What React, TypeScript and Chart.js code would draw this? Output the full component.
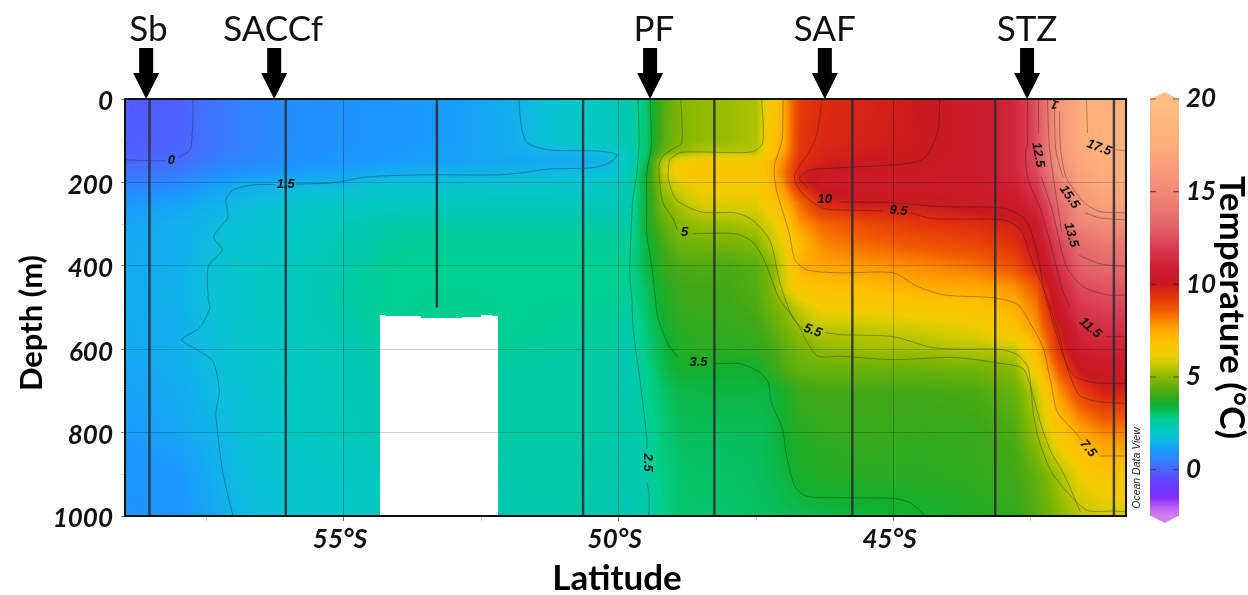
import React, { useEffect, useRef } from "react";
import { Chart, registerables } from "chart.js";

Chart.register(...registerables);

const LAT_MIN = 40.77;
const LAT_MAX = 58.985;
const latTicks = [57.5, 55, 52.5, 50, 47.5, 45, 42.5];
const latLabels: Record<string, string> = { "55": "55°S", "50": "50°S", "45": "45°S" };

const gridLats = [59, 58, 57, 56, 55, 54, 53, 52, 51, 50.2, 49.8, 49.5, 49.2, 48.9, 48.5, 48, 47.5, 47.2, 47, 46.7, 46.3, 45.5, 44.5, 43.5, 42.8, 42.4, 42, 41.6, 41.2, 40.7];
const gridDepths = [0, 100, 125, 150, 175, 200, 250, 300, 350, 400, 450, 500, 550, 600, 650, 700, 800, 900, 1000];
const temperature: number[][] = [
  [-0.2, -0.1, 0.5, 0.8, 0.9, 1.0, 1.1, 1.4, 1.9, 2.2, 2.4, 3.0, 4.2, 4.9, 5.1, 5.2, 5.4, 6.5, 7.5, 9.2, 9.5, 9.7, 10.0, 10.6, 11.2, 12.5, 15.8, 17.4, 17.8, 17.9],
  [-0.2, -0.05, 0.5, 0.8, 0.9, 1.0, 1.1, 1.35, 1.95, 2.2, 2.4, 3.0, 4.3, 4.9, 5.1, 5.2, 5.4, 6.8, 7.5, 9.3, 9.6, 9.8, 9.95, 10.6, 11.2, 12.4, 15.7, 17.4, 17.8, 17.9],
  [-0.15, 0, 0.55, 0.85, 0.95, 1.05, 1.15, 1.35, 1.5, 1.7, 2.3, 3.0, 4.5, 5.0, 5.4, 5.45, 5.5, 6.8, 7.6, 9.3, 9.7, 9.9, 9.97, 10.6, 11.2, 12.5, 15.6, 17.2, 17.6, 17.7],
  [0, 0.15, 0.65, 0.9, 1.0, 1.1, 1.2, 1.25, 1.3, 1.5, 2.2, 3.2, 5.5, 6.3, 6.5, 6.5, 6.5, 7.3, 8.0, 9.5, 9.8, 10.0, 10.1, 10.6, 11.2, 12.4, 15.4, 17.0, 17.5, 17.6],
  [0.25, 0.4, 0.85, 1.05, 1.2, 1.35, 1.45, 1.48, 1.55, 1.7, 2.3, 3.4, 5.6, 6.5, 6.6, 6.6, 6.6, 7.4, 8.2, 9.7, 10.1, 10.3, 10.3, 10.6, 11.2, 12.3, 15.0, 16.8, 17.4, 17.5],
  [0.5, 0.7, 1.3, 1.45, 1.55, 1.7, 1.75, 1.8, 1.85, 2.0, 2.35, 3.5, 5.3, 6.0, 6.4, 6.4, 6.4, 7.2, 8.0, 9.7, 10.4, 10.5, 10.5, 10.6, 11.0, 11.9, 14.3, 16.5, 17.2, 17.3],
  [1.0, 1.2, 1.55, 1.85, 2.0, 2.15, 2.2, 2.2, 2.2, 2.25, 2.4, 3.5, 4.8, 5.4, 5.9, 6.0, 6.0, 6.8, 7.3, 8.4, 9.6, 10.0, 10.0, 10.3, 10.5, 11.3, 13.3, 15.6, 16.6, 16.8],
  [1.2, 1.4, 1.7, 2.0, 2.3, 2.5, 2.5, 2.5, 2.5, 2.5, 2.5, 3.5, 4.5, 4.95, 5.2, 5.25, 5.45, 6.0, 6.6, 7.8, 8.4, 8.9, 9.3, 9.5, 9.8, 10.5, 12.9, 14.8, 15.2, 15.3],
  [1.3, 1.4, 1.8, 2.0, 2.4, 2.6, 2.65, 2.65, 2.65, 2.65, 2.6, 3.3, 4.1, 4.6, 4.7, 4.75, 4.9, 5.6, 6.2, 7.1, 8.0, 8.4, 8.7, 9.0, 9.4, 10.2, 12.0, 13.4, 14.0, 14.1],
  [1.3, 1.42, 1.9, 2.15, 2.4, 2.7, 2.7, 2.7, 2.7, 2.7, 2.7, 3.3, 3.9, 4.2, 4.3, 4.2, 4.4, 5.0, 5.8, 7.4, 7.6, 7.8, 8.0, 8.3, 8.8, 9.8, 11.6, 13.0, 13.35, 13.5],
  [1.35, 1.45, 1.95, 2.2, 2.5, 2.7, 2.7, 2.7, 2.7, 2.7, 2.65, 3.1, 3.7, 4.0, 4.1, 4.1, 4.3, 4.9, 5.8, 6.8, 7.0, 7.05, 7.5, 7.55, 7.9, 8.7, 10.9, 12.4, 12.6, 12.7],
  [1.35, 1.45, 1.9, 2.2, 2.5, 2.7, 2.75, 2.7, 2.65, 2.65, 2.55, 3.0, 3.6, 3.95, 4.0, 4.0, 4.2, 4.7, 5.0, 5.7, 6.3, 6.4, 6.6, 6.8, 7.35, 8.2, 10.5, 11.8, 12.1, 12.1],
  [1.3, 1.4, 1.9, 2.15, 2.4, 2.7, 2.75, 2.7, 2.6, 2.6, 2.45, 2.9, 3.45, 3.8, 3.9, 3.9, 4.0, 4.4, 4.7, 5.2, 5.55, 5.6, 5.8, 6.1, 6.9, 7.8, 9.8, 11.2, 11.5, 11.55],
  [1.3, 1.45, 1.85, 2.15, 2.3, 2.6, 2.6, 2.6, 2.55, 2.55, 2.4, 2.8, 3.3, 3.7, 3.8, 3.8, 3.9, 4.1, 4.4, 4.8, 5.05, 5.25, 5.3, 5.5, 5.6, 7.1, 9.4, 10.8, 11.0, 11.0],
  [1.2, 1.4, 1.8, 2.1, 2.3, 2.55, 2.55, 2.5, 2.5, 2.5, 2.35, 2.7, 3.2, 3.55, 3.55, 3.5, 3.5, 3.9, 4.2, 4.5, 4.6, 4.6, 4.6, 4.7, 5.0, 6.5, 8.6, 10.1, 10.4, 10.4],
  [1.15, 1.35, 1.75, 2.05, 2.3, 2.5, 2.5, 2.5, 2.5, 2.5, 2.4, 2.65, 3.0, 3.3, 3.35, 3.35, 3.35, 3.4, 3.6, 4.0, 4.1, 4.1, 4.1, 4.2, 4.6, 5.6, 7.8, 9.1, 9.8, 9.85],
  [1.05, 1.25, 1.65, 2.05, 2.25, 2.4, 2.5, 2.5, 2.5, 2.5, 2.45, 2.5, 2.9, 3.1, 3.15, 3.15, 3.15, 3.3, 3.5, 3.75, 3.9, 3.95, 3.9, 3.95, 4.2, 5.2, 6.6, 7.55, 8.0, 8.1],
  [0.95, 1.0, 1.6, 1.9, 2.05, 2.3, 2.4, 2.45, 2.5, 2.45, 2.4, 2.5, 2.8, 3.0, 3.05, 3.05, 3.1, 3.25, 3.35, 3.6, 3.7, 3.8, 3.8, 3.9, 4.05, 4.5, 5.3, 6.2, 6.7, 6.8],
  [0.9, 0.95, 1.5, 1.9, 2.0, 2.2, 2.3, 2.4, 2.45, 2.4, 2.4, 2.45, 2.7, 3.0, 3.0, 3.0, 3.05, 3.1, 3.15, 3.2, 3.3, 3.4, 3.5, 3.7, 3.9, 4.3, 4.95, 5.5, 5.7, 5.8],
];

const maskLats = [54.34, 54.25, 53.6, 52.85, 52.5, 52.3, 52.19];
const maskTopDepths = [518, 520, 524, 522, 518, 521];

const colorValues = [-2.5, -2.05, -1.5, -0.8, 0, 1, 1.3, 1.5, 1.7, 2, 2.4, 2.7, 3.1, 3.5, 4.05, 5, 5.77, 6.2, 7, 7.7, 8.6, 9.55, 10, 10.8, 11.9, 12.95, 15, 17.5, 20];
const colorStops = ["#d080f0", "#c060f0", "#8030ff", "#6a3cff", "#4a66ff", "#1c98ff", "#14a8f0", "#10b4e8", "#0cc0d8", "#06c8c8", "#00c8b0", "#00d090", "#08c060", "#10b030", "#40a818", "#88b800", "#d0cc00", "#f0cc00", "#ffc000", "#ffa000", "#f05a00", "#dd2a10", "#c81a20", "#cc1c30", "#d93a50", "#e26068", "#f08a78", "#ffae7c", "#ffbe85"];
const colorbarTicks = [0, 5, 10, 15];

const stationLats = [58.54, 56.06, 53.31, 50.65, 48.26, 45.75, 43.15, 40.99];
const stationEnds = [1000, 1000, 500, 1000, 1000, 1000, 1000, 1000];

const frontNames = ["Sb", "SACCf", "PF", "SAF", "STZ"];
const frontLats = [58.6, 56.27, 49.43, 46.25, 42.57];
const frontNameLats = [58.56, 56.29, 49.36, 46.25, 42.57];

type P = [number, number] | null;
const contour0: P[] = [[58.98, 146], [58.53, 148], [58.25, 148], null, [58.02, 141], [57.8, 122], [57.77, 98], [57.75, 50], [57.75, 0]];
const contour1p5: P[] = [[57.02, 1000], [57.2, 900], [57.29, 812], [57.33, 750], [57.27, 702], [57.38, 630], [57.68, 601], [57.95, 577], [57.62, 548], [57.44, 500], [57.47, 481], [57.47, 402], [57.22, 362], [57.37, 330], [57.11, 283], [57.15, 242], [57.02, 218], [56.66, 206], [56.26, 205], null, [55.87, 204], [55.2, 201], [54.58, 187], [53.62, 182], [52.19, 182], [51.77, 177], [51.28, 168], [50.49, 165], [50.17, 153], [50.03, 134], [50.34, 125], [51.28, 122], [51.67, 105], [51.77, 67], [51.82, 0]];
const contour2p5: P[] = [[49.65, 0], [49.63, 105], [49.67, 177], [49.74, 235], [49.76, 273], [49.8, 417], [49.76, 481], [49.74, 548], [49.61, 678], [49.49, 812], [49.49, 840], null, [49.49, 917], [49.45, 948], [49.45, 1000]];
const contour3p5: P[] = [[49.43, 0], [49.41, 115], [49.49, 177], [49.49, 259], [49.49, 321], [49.4, 402], [49.34, 469], [49.29, 524], [49.1, 589], [48.92, 620], null, [48.25, 635], [47.79, 635], [47.43, 656], [47.28, 680], [47.23, 726], [47.03, 788], [46.94, 860], [46.79, 931], [46.57, 953], [45.97, 956], [45, 958], [44.7, 968], [44.43, 998]];
const contour5: P[] = [[48.87, 0], [48.85, 105], [48.96, 115], [49.2, 137], [49.27, 163], [49.2, 247], [49.0, 290], [48.94, 315], null, [48.65, 323], [47.88, 323], [47.57, 342], [47.36, 385], [47.15, 457], [47.06, 483], [46.79, 530], [46.4, 615], [45.97, 617], [45, 625], [43.9, 620], [43.05, 634], [42.65, 646], [42.52, 685], [42.3, 788], [42.12, 850], [41.9, 900], [41.6, 990]];
const contour5p5a: P[] = [[47.4, 0], [47.38, 105], [47.58, 127], [48.54, 127], [48.9, 129], [49.08, 146]];
const contour5p5b: P[] = [[49.08, 146], [49.1, 190], [48.95, 242], [48.5, 271], [47.88, 273], [47.57, 290], [47.25, 339], [47.07, 440], [46.84, 524], [46.65, 552], null, [46.25, 560], [45.97, 565], [45, 570], [44.3, 596], [43.72, 600], [43.1, 600], [42.75, 613], [42.55, 645], [42.46, 750], [42.35, 820], [42.1, 900], [41.5, 985], [40.99, 988], [40.77, 990]];
const contour7p5: P[] = [[47.01, 0], [47.03, 98], [47.17, 163], [47.13, 218], [46.9, 321], [46.79, 386], [46.57, 410], [45.97, 417], [45, 417], [44.56, 450], [44.07, 470], [43.17, 477], [42.74, 493], [42.5, 541], [42.28, 596], [42.14, 678], [42.02, 750], [41.69, 800], [41.56, 820], null, [41.24, 856], [40.77, 856]];
const contour9p5: P[] = [[46.3, 0], [46.39, 81], [46.51, 122], [46.79, 177], [46.79, 199], [46.6, 235], [46.28, 262], [45.97, 266], [45.2, 268], null, [44.7, 273], [44.28, 287], [43.0, 290], [42.69, 313], [42.51, 377], [42.2, 480], [41.98, 570], [41.85, 640], [41.62, 710], [41.3, 725], [40.77, 730]];
const contour10: P[] = [[44.16, 0], [44.2, 81], [44.5, 147], [45.97, 165], [46.5, 170], [46.71, 189], [46.55, 215], null, [45.97, 247], [45.1, 248], [44.16, 258], [43.0, 262], [42.6, 289], [42.4, 361], [42.25, 465], [41.9, 620], [41.7, 665], [41.35, 680], [40.77, 682]];
const contour11p5: P[] = [[42.56, 0], [42.56, 105], [42.6, 129], [42.55, 194], [42.32, 266], [42.1, 370], [41.91, 465], [41.78, 500], null, [41.14, 570], [40.77, 570]];
const contour12p5: P[] = [[42.36, 0], [42.36, 81], null, [42.31, 187], [42.1, 273], [41.86, 400], [41.55, 450], [41.1, 470], [40.77, 470]];
const contour13p5: P[] = [[42.2, 0], [42.16, 120], [41.94, 320], null, [41.62, 375], [41.25, 395], [40.78, 402]];
const contour15p5: P[] = [[42.07, 20], [42.05, 120], [41.92, 187], null, [41.51, 273], [41.25, 285], [40.78, 290]];
const contour16p5: P[] = [[41.98, 30], [41.96, 120], [41.86, 187], [41.53, 249], [41.24, 270], [40.78, 273]];
const contour17p5: P[] = [[41.49, 0], [41.47, 81], null, [40.95, 122], [40.78, 124]];
const contours = [contour0, contour1p5, contour2p5, contour3p5, contour5, contour5p5a, contour5p5b, contour7p5, contour9p5, contour10, contour11p5, contour12p5, contour13p5, contour15p5, contour16p5, contour17p5];

const contourLabelText = ["0", "1.5", "2.5", "3.5", "5", "5.5", "7.5", "9.5", "10", "11.5", "12.5", "13.5", "15.5", "17.5", "1"];
const contourLabelLat = [58.14, 56.06, 49.47, 48.55, 48.8, 46.47, 41.46, 44.91, 46.25, 41.42, 42.37, 41.77, 41.8, 41.26, 42.06];
const contourLabelDepth = [148, 206, 872, 632, 321, 556, 838, 268, 242, 549, 134, 326, 235, 117, 12];
const contourLabelAngle = [0, 0, 90, 0, 0, 20, 50, 5, 0, 40, 80, 75, 55, 20, 195];

const App = () => {
  const ref = useRef<HTMLCanvasElement>(null);
  useEffect(() => {
    document.body.style.margin = "0";
    const tempAt = (lat: number, depth: number) => {
      let i = 0;
      while (i < gridLats.length - 2 && lat < gridLats[i + 1]) i++;
      let j = 0;
      while (j < gridDepths.length - 2 && depth > gridDepths[j + 1]) j++;
      const u = (gridLats[i] - lat) / (gridLats[i] - gridLats[i + 1]);
      const v = (depth - gridDepths[j]) / (gridDepths[j + 1] - gridDepths[j]);
      const a = temperature[j][i], b = temperature[j][i + 1], c = temperature[j + 1][i], d = temperature[j + 1][i + 1];
      return (a * (1 - u) + b * u) * (1 - v) + (c * (1 - u) + d * u) * v;
    };
    const isMasked = (lat: number, depth: number) => {
      for (let i = 0; i < maskTopDepths.length; i++) {
        if (lat <= maskLats[i] && lat > maskLats[i + 1] && depth > maskTopDepths[i]) return true;
      }
      return false;
    };
    const rgbStops = colorStops.map((h) => [parseInt(h.slice(1, 3), 16), parseInt(h.slice(3, 5), 16), parseInt(h.slice(5, 7), 16)]);
    const colorAt = (t: number) => {
      if (t <= colorValues[0]) return rgbStops[0];
      let k = 0;
      while (k < colorValues.length - 2 && t > colorValues[k + 1]) k++;
      const f = Math.min(1, (t - colorValues[k]) / (colorValues[k + 1] - colorValues[k]));
      return rgbStops[k].map((c, n) => c + (rgbStops[k + 1][n] - c) * f);
    };
    const fieldPlugin = {
      id: "field",
      beforeDraw(chart: any) {
        const { ctx, chartArea: a, scales } = chart;
        const w = Math.round(a.right - a.left), h = Math.round(a.bottom - a.top);
        const off = document.createElement("canvas");
        off.width = w; off.height = h;
        const oc = off.getContext("2d")!;
        const img = oc.createImageData(w, h);
        for (let py = 0; py < h; py++) {
          const depth = scales.y.getValueForPixel(a.top + py + 0.5);
          for (let px = 0; px < w; px++) {
            const lat = scales.x.getValueForPixel(a.left + px + 0.5);
            const o = (py * w + px) * 4;
            if (isMasked(lat, depth)) continue;
            const col = colorAt(tempAt(lat, depth));
            img.data[o] = col[0]; img.data[o + 1] = col[1]; img.data[o + 2] = col[2]; img.data[o + 3] = 255;
          }
        }
        oc.putImageData(img, 0, 0);
        ctx.drawImage(off, a.left, a.top);
        // colour bar, on the temperature scale
        const barL = 1150, barR = 1179;
        const t = scales.temp;
        for (let y = Math.round(t.top); y < Math.round(t.bottom); y++) {
          const c = colorAt(t.getValueForPixel(y + 0.5));
          ctx.fillStyle = `rgb(${c[0]},${c[1]},${c[2]})`;
          ctx.fillRect(barL, y, barR - barL, 1);
        }
        const tip = (yBase: number, yTip: number, col: string) => {
          ctx.fillStyle = col;
          ctx.beginPath();
          ctx.moveTo(barL, yBase); ctx.lineTo((barL + barR) / 2, yTip); ctx.lineTo(barR, yBase);
          ctx.closePath(); ctx.fill();
        };
        tip(t.top + 0.5, t.top - 7, colorStops[colorStops.length - 1]);
        tip(t.bottom - 0.5, t.bottom + 7, colorStops[0]);
        ctx.strokeStyle = "rgba(60,40,40,0.7)";
        ctx.lineWidth = 1.2;
        for (const v of [...colorbarTicks, 20]) {
          const y = t.getPixelForValue(v);
          ctx.beginPath();
          ctx.moveTo(barL, y); ctx.lineTo(barL + 6, y);
          ctx.moveTo(barR - 6, y); ctx.lineTo(barR, y);
          ctx.stroke();
        }
      },
      afterDraw(chart: any) {
        const { ctx, chartArea: a, scales } = chart;
        ctx.save();
        // frame
        ctx.strokeStyle = "#111";
        ctx.lineWidth = 2;
        ctx.strokeRect(a.left, a.top, a.right - a.left, a.bottom - a.top);
        // contour labels
        ctx.fillStyle = "#111";
        ctx.font = "italic bold 13px 'Liberation Sans'";
        ctx.textAlign = "center";
        ctx.textBaseline = "middle";
        contourLabelText.forEach((s, i) => {
          ctx.save();
          ctx.translate(scales.x.getPixelForValue(contourLabelLat[i]), scales.y.getPixelForValue(contourLabelDepth[i]));
          ctx.rotate((contourLabelAngle[i] * Math.PI) / 180);
          ctx.fillText(s, 0, 0);
          ctx.restore();
        });
        // fronts
        frontNames.forEach((s, i) => {
          const x = scales.x.getPixelForValue(frontLats[i]);
          ctx.fillStyle = "#000";
          ctx.beginPath();
          ctx.moveTo(x - 7, 48); ctx.lineTo(x + 7, 48); ctx.lineTo(x + 7, 73); ctx.lineTo(x + 13, 73);
          ctx.lineTo(x, a.top); ctx.lineTo(x - 13, 73); ctx.lineTo(x - 7, 73);
          ctx.closePath(); ctx.fill();
          ctx.font = "35px Lato";
          ctx.fillStyle = "#111";
          ctx.textBaseline = "alphabetic";
          ctx.fillText(s, scales.x.getPixelForValue(frontNameLats[i]), 41);
        });
        // titles
        ctx.fillStyle = "#000";
        ctx.font = "bold 35px Lato";
        ctx.textBaseline = "middle";
        ctx.fillText("Latitude", 617, 579);
        ctx.font = "bold 31px Lato";
        ctx.save();
        ctx.translate(32, 323);
        ctx.rotate(-Math.PI / 2);
        ctx.fillText("Depth (m)", 0, 0);
        ctx.restore();
        ctx.save();
        ctx.translate(1137, 468);
        ctx.rotate(-Math.PI / 2);
        ctx.font = "italic 10.5px 'Liberation Sans'";
        ctx.fillStyle = "#222";
        ctx.fillText("Ocean Data View", 0, 0);
        ctx.restore();
        ctx.restore();
      },
    };
    const tickFont = { family: "Lato", size: 26, weight: "bold", style: "italic" } as any;
    const chart = new Chart(ref.current!, {
      type: "scatter",
      data: {
        datasets: [
          ...stationLats.map((lat, i) => ({
            label: `station ${i + 1}`,
            data: [{ x: lat, y: 0 }, { x: lat, y: stationEnds[i] }],
            showLine: true,
            pointRadius: 0,
            borderColor: "rgba(45,45,55,0.9)",
            borderWidth: 2.4,
            order: 0,
          })),
          ...contours.map((c, i) => ({
            label: `contour ${i + 1}`,
            data: c.map((p) => (p ? { x: p[0], y: p[1] } : { x: NaN, y: NaN })),
            showLine: true,
            spanGaps: false,
            pointRadius: 0,
            borderColor: "rgba(20,30,20,0.5)",
            borderWidth: 0.7,
            tension: 0.25,
            order: 1,
          })),
        ],
      },
      options: {
        animation: false,
        responsive: false,
        layout: { padding: { top: 99, left: 0, right: 0, bottom: 0 } },
        plugins: { legend: { display: false }, tooltip: { enabled: false } },
        scales: {
          x: {
            type: "linear",
            reverse: true,
            min: LAT_MIN,
            max: LAT_MAX,
            afterBuildTicks: (s: any) => { s.ticks = latTicks.map((value) => ({ value })); },
            afterFit: (s: any) => { s.height = 79; },
            border: { display: false },
            grid: {
              color: (c: any) => (latLabels[String(c.tick?.value)] ? "rgba(0,0,0,0.25)" : "rgba(0,0,0,0)"),
              tickColor: (c: any) => (latLabels[String(c.tick?.value)] ? "rgba(0,0,0,0.55)" : "rgba(0,0,0,0.2)"),
              tickLength: 5,
            },
            ticks: {
              autoSkip: false,
              maxRotation: 0,
              padding: 3,
              labelOffset: -4,
              color: "#111",
              font: tickFont,
              callback: (v: any) => latLabels[String(v)] ?? "",
            },
          },
          y: {
            type: "linear",
            reverse: true,
            min: 0,
            max: 1000,
            afterFit: (s: any) => { s.width = 125; },
            border: { display: false },
            grid: {
              color: (c: any) => (c.tick && c.tick.value % 200 === 0 ? "rgba(0,0,0,0.18)" : "rgba(0,0,0,0)"),
              tickColor: (c: any) => (c.tick && c.tick.value % 200 === 0 ? "rgba(0,0,0,0.5)" : "rgba(0,0,0,0.15)"),
              tickLength: 4,
            },
            ticks: {
              stepSize: 100,
              autoSkip: false,
              padding: 8,
              labelOffset: 3,
              color: "#111",
              font: tickFont,
              callback: (v: any) => (v % 200 === 0 ? String(v) : ""),
            },
          },
          temp: {
            type: "linear",
            position: "right",
            min: -2.5,
            max: 20,
            afterFit: (s: any) => { s.width = 122; },
            border: { display: false },
            grid: { display: false, drawTicks: false },
            title: { display: true, text: "Temperature (°C)", color: "#000", font: { family: "Lato", size: 35, weight: "bold", lineHeight: 1 }, padding: { top: -1, bottom: 0 } },
            ticks: {
              stepSize: 5,
              padding: 60,
              autoSkip: false,
              color: "#111",
              font: tickFont,
              callback: (v: any) => (v % 5 === 0 ? String(v) : ""),
            },
          },
        },
      } as any,
      plugins: [fieldPlugin],
    });
    return () => chart.destroy();
  }, []);
  return <canvas ref={ref} width={1248} height={595} style={{ display: "block" }} />;
};

export default App;
